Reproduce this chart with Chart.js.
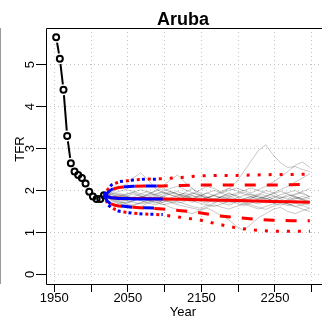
<!DOCTYPE html>
<html><head><meta charset="utf-8">
<script src="https://cdn.jsdelivr.net/npm/chart.js@4/dist/chart.umd.min.js"></script>
<style>
html,body{margin:0;padding:0;background:#fff;}
#wrap{position:relative;width:326px;height:322px;}
#edge{position:absolute;left:0;top:28px;width:1px;height:256px;background:#9a9a9a;}
</style></head><body>
<div id="wrap"><canvas id="c" width="326" height="322"></canvas><div id="edge"></div></div>
<script>
const countryName = 'Aruba';
const xAxisLabel = 'Year';
const yAxisLabel = 'TFR';
const xTickYears = [1950, 2000, 2050, 2100, 2150, 2200, 2250, 2300];
const xLabelYears = [1950, 2050, 2150, 2250];
const yTicks = [0, 1, 2, 3, 4, 5];

const obsYears = [1952.5, 1957.5, 1962.5, 1967.5, 1972.5, 1977.5, 1982.5, 1987.5, 1992.5, 1997.5, 2002.5, 2007.5, 2012.5, 2017.5];
const obsTFR   = [5.65, 5.14, 4.40, 3.30, 2.65, 2.45, 2.37, 2.30, 2.17, 1.97, 1.86, 1.80, 1.80, 1.89];

const projYears = [2017.5, 2022.5, 2027.5, 2032.5, 2037.5, 2047.5, 2057.5, 2072.5, 2097.5, 2122.5, 2147.5, 2172.5, 2197.5, 2222.5, 2247.5, 2272.5, 2297.5];
const redMedian  = [1.89, 1.85, 1.83, 1.82, 1.82, 1.81, 1.81, 1.81, 1.80, 1.79, 1.78, 1.77, 1.76, 1.75, 1.74, 1.73, 1.72];
const redUpper80 = [1.89, 1.96, 2.02, 2.05, 2.07, 2.09, 2.10, 2.11, 2.11, 2.12, 2.13, 2.13, 2.13, 2.13, 2.13, 2.14, 2.15];
const redLower80 = [1.89, 1.75, 1.68, 1.65, 1.63, 1.61, 1.60, 1.58, 1.56, 1.52, 1.47, 1.40, 1.36, 1.32, 1.29, 1.28, 1.28];
const redUpper95 = [1.89, 2.02, 2.11, 2.17, 2.20, 2.23, 2.25, 2.27, 2.28, 2.31, 2.35, 2.36, 2.36, 2.37, 2.38, 2.38, 2.39];
const redLower95 = [1.89, 1.68, 1.61, 1.55, 1.52, 1.48, 1.46, 1.44, 1.42, 1.36, 1.30, 1.20, 1.11, 1.06, 1.03, 1.03, 1.03];

const blueYears   = [2017.5, 2022.5, 2027.5, 2032.5, 2037.5, 2047.5, 2057.5, 2072.5, 2097.5];
const blueMedian  = [1.89, 1.85, 1.83, 1.82, 1.81, 1.81, 1.80, 1.80, 1.80];
const blueUpper80 = [1.89, 1.95, 2.02, 2.06, 2.08, 2.09, 2.10, 2.11, 2.11];
const blueLower80 = [1.89, 1.74, 1.67, 1.64, 1.64, 1.62, 1.60, 1.59, 1.58];
const blueUpper95 = [1.89, 2.03, 2.13, 2.18, 2.21, 2.23, 2.25, 2.27, 2.27];
const blueLower95 = [1.89, 1.67, 1.59, 1.54, 1.51, 1.48, 1.46, 1.44, 1.43];

const trajYears = [2017.5, 2027.5, 2037.5, 2047.5, 2057.5, 2067.5, 2077.5, 2087.5, 2097.5, 2107.5, 2117.5, 2127.5, 2137.5, 2147.5, 2157.5, 2167.5, 2177.5, 2187.5, 2197.5, 2207.5, 2217.5, 2227.5, 2237.5, 2247.5, 2257.5, 2267.5, 2277.5, 2287.5, 2297.5];
const traj1  = [1.89,1.95,2.05,2.15,2.30,2.42,2.25,2.05,1.95,1.90,1.85,1.95,2.05,1.90,1.80,1.75,1.85,1.95,1.85,1.75,1.80,1.90,2.00,1.95,1.85,1.80,1.90,1.95,1.85];
const traj2  = [1.89,1.80,1.72,1.70,1.75,1.82,1.90,2.00,2.10,2.25,2.37,2.20,2.05,1.95,1.85,1.78,1.70,1.65,1.72,1.80,1.85,1.78,1.70,1.75,1.82,1.90,1.85,1.80,1.75];
const traj3  = [1.89,1.90,1.85,1.80,1.85,1.92,1.98,1.90,1.85,1.80,1.78,1.85,1.92,2.00,2.10,2.05,1.95,2.05,2.20,2.45,2.70,2.95,3.09,2.85,2.66,2.55,2.57,2.50,2.45];
const traj4  = [1.89,1.78,1.70,1.65,1.60,1.62,1.70,1.75,1.68,1.60,1.55,1.50,1.45,1.52,1.58,1.50,1.40,1.30,1.15,1.05,1.20,1.35,1.45,1.55,1.60,1.50,1.45,1.52,1.58];
const traj5  = [1.89,1.85,1.88,1.92,1.95,1.88,1.82,1.78,1.85,1.92,1.98,1.90,1.82,1.75,1.70,1.78,1.86,1.92,1.88,1.80,1.72,1.68,1.75,1.82,1.90,1.95,2.00,1.92,1.85];
const traj6  = [1.89,1.82,1.78,1.75,1.72,1.68,1.72,1.80,1.88,1.95,1.90,1.82,1.75,1.70,1.66,1.62,1.68,1.75,1.82,1.88,1.92,1.85,1.78,1.70,1.65,1.70,1.76,1.70,1.65];
const traj7  = [1.89,1.92,1.98,2.02,1.98,1.92,1.88,1.92,1.98,2.05,2.10,2.02,1.95,1.88,1.82,1.90,1.98,2.05,2.00,1.92,1.86,1.80,1.86,1.94,2.02,2.10,2.20,2.30,2.40];
const traj8  = [1.89,1.76,1.68,1.62,1.66,1.72,1.78,1.72,1.66,1.70,1.76,1.82,1.88,1.84,1.78,1.72,1.76,1.82,1.78,1.72,1.66,1.60,1.55,1.62,1.70,1.76,1.82,1.78,1.72];
const traj9  = [1.89,1.86,1.80,1.76,1.80,1.86,1.84,1.78,1.72,1.76,1.82,1.88,1.94,1.90,1.84,1.80,1.74,1.70,1.74,1.80,1.86,1.92,1.88,1.80,1.74,1.68,1.62,1.66,1.72];
const traj10 = [1.89,1.94,1.90,1.86,1.82,1.76,1.70,1.66,1.72,1.80,1.74,1.68,1.62,1.58,1.64,1.70,1.78,1.84,1.90,1.96,1.90,1.84,1.80,1.86,1.80,1.74,1.80,1.86,1.80];
const traj11 = [1.89,1.80,1.84,1.90,1.96,2.02,1.96,1.88,1.80,1.74,1.70,1.74,1.80,1.86,1.94,2.00,1.94,1.86,1.80,1.76,1.82,1.88,1.82,1.76,1.72,1.78,1.84,1.78,1.72];
const traj12 = [1.89,1.90,1.94,1.88,1.82,1.78,1.84,1.90,1.96,1.90,1.84,1.78,1.72,1.78,1.84,1.88,1.82,1.76,1.70,1.64,1.70,1.76,1.82,1.76,1.70,1.64,1.70,1.64,1.58];
const traj13 = [1.89,1.84,1.76,1.70,1.76,1.84,1.92,1.98,2.04,1.98,1.92,1.86,1.82,1.88,1.94,1.88,1.82,1.88,1.94,2.00,2.06,2.00,1.94,1.88,1.82,1.86,1.92,1.98,2.04];
const traj14 = [1.89,1.86,1.90,1.84,1.78,1.82,1.76,1.70,1.76,1.82,1.88,1.94,1.88,1.80,1.74,1.80,1.86,1.80,1.74,1.68,1.74,1.80,1.86,1.92,1.98,1.92,1.86,1.80,1.86];
const traj15 = [1.89,1.84,1.80,1.86,1.92,1.86,1.80,1.86,1.92,1.98,1.92,1.86,1.80,1.76,1.82,1.88,1.94,2.00,2.06,2.00,1.94,2.02,2.10,2.20,2.32,2.45,2.60,2.68,2.55];
const traj16 = [1.89,1.82,1.74,1.68,1.64,1.70,1.76,1.82,1.78,1.72,1.66,1.62,1.58,1.54,1.60,1.66,1.60,1.56,1.62,1.68,1.62,1.56,1.62,1.68,1.74,1.68,1.62,1.56,1.50];
const trajectories = [traj1, traj2, traj3, traj4, traj5, traj6, traj7, traj8, traj9, traj10, traj11, traj12, traj13, traj14, traj15, traj16];

const FONT = '"Liberation Sans", Arial, Helvetica, sans-serif';
const pts = (xs, ys) => xs.map((x, i) => ({x: x, y: ys[i]}));

const datasets = [];
const lineDs = (xs, ys, color, width, dash, offset, order) => ({
  data: pts(xs, ys), borderColor: color, borderWidth: width, borderDash: dash, borderDashOffset: offset,
  pointRadius: 0, fill: false, tension: 0, order: order
});
// blue (top)
datasets.push(lineDs(blueYears, blueMedian, '#0000ff', 3, [], 0, 1));
datasets.push(lineDs(blueYears, blueUpper80, '#0000ff', 3, [11, 11], 0, 2));
datasets.push(lineDs(blueYears, blueLower80, '#0000ff', 3, [11, 11], 0, 2));
datasets.push(lineDs(blueYears, blueUpper95, '#0000ff', 3, [3, 8], 0, 3));
datasets.push(lineDs(blueYears, blueLower95, '#0000ff', 3, [3, 8], 0, 3));
// red
datasets.push(lineDs(projYears, redMedian, '#ff0000', 3, [], 0, 5));
datasets.push(lineDs(projYears, redUpper80, '#ff0000', 3, [11, 11], 11, 6));
datasets.push(lineDs(projYears, redLower80, '#ff0000', 3, [11, 11], 11, 6));
datasets.push(lineDs(projYears, redUpper95, '#ff0000', 3, [3, 8], 5.5, 7));
datasets.push(lineDs(projYears, redLower95, '#ff0000', 3, [3, 8], 5.5, 7));
// gray trajectories
trajectories.forEach((t) => datasets.push(lineDs(trajYears, t, 'rgba(0,0,0,0.22)', 1, [], 0, 15)));
// observed: circles, white masks under them, connecting line (bottom)
datasets.push({data: pts(obsYears, obsTFR), showLine: false, pointRadius: 3, pointBorderWidth: 2,
  pointBorderColor: '#000', pointBackgroundColor: 'rgba(0,0,0,0)', order: 20});
datasets.push({data: pts(obsYears, obsTFR), showLine: false, pointRadius: 5.5, pointBorderWidth: 0,
  pointBackgroundColor: '#fff', pointBorderColor: '#fff', order: 21});
datasets.push({data: pts(obsYears, obsTFR), borderColor: '#000', borderWidth: 2, pointRadius: 0,
  tension: 0, fill: false, order: 22});

const decor = {
  id: 'decor',
  afterDraw(chart) {
    const {ctx, chartArea: a, scales: {y}} = chart;
    ctx.save();
    ctx.strokeStyle = '#000'; ctx.lineWidth = 1; ctx.setLineDash([]);
    ctx.beginPath();
    ctx.moveTo(a.right + 2, a.top + 0.5);
    ctx.lineTo(a.left + 0.5, a.top + 0.5);
    ctx.lineTo(a.left + 0.5, a.bottom + 0.5);
    ctx.lineTo(a.right + 2, a.bottom + 0.5);
    ctx.stroke();
    ctx.fillStyle = '#000';
    ctx.font = '13px ' + FONT;
    ctx.textAlign = 'center'; ctx.textBaseline = 'middle';
    yTicks.forEach(v => {
      ctx.save(); ctx.translate(a.left - 16, y.getPixelForValue(v)); ctx.rotate(-Math.PI / 2);
      ctx.fillText(String(v), 0, 0); ctx.restore();
    });
    ctx.save(); ctx.translate(a.left - 26, (a.top + a.bottom) / 2 - 7); ctx.rotate(-Math.PI / 2);
    ctx.fillText(yAxisLabel, 0, 0); ctx.restore();
    ctx.font = 'bold 18px ' + FONT;
    ctx.textBaseline = 'alphabetic';
    ctx.fillText(countryName, (a.left + a.right) / 2, 25);
    ctx.restore();
  }
};

new Chart(document.getElementById('c'), {
  type: 'line',
  data: {datasets: datasets},
  plugins: [decor],
  options: {
    responsive: false, animation: false, devicePixelRatio: 1,
    layout: {padding: {top: 28, left: 0, right: 0, bottom: 0}},
    plugins: {legend: {display: false}, tooltip: {enabled: false}, title: {display: false}},
    scales: {
      x: {
        type: 'linear', min: 1938.7, max: 2311.3,
        afterBuildTicks: (s) => { s.ticks = xTickYears.map(v => ({value: v})); },
        afterFit: (s) => { s.height = 38; },
        ticks: {autoSkip: false, maxRotation: 0, minRotation: 0, padding: 0, color: '#000',
          font: {family: FONT, size: 13, lineHeight: 1},
          callback: (v) => xLabelYears.includes(v) ? String(v) : ''},
        grid: {color: '#c4c4c4', lineWidth: 1, tickLength: 8, tickColor: '#000', tickWidth: 1, tickBorderDash: []},
        border: {display: false, dash: [1, 3]},
        title: {display: true, text: xAxisLabel, color: '#000', font: {family: FONT, size: 13, lineHeight: 1.2},
          padding: {top: 0, bottom: 2.2}}
      },
      y: {
        type: 'linear', min: -0.226, max: 5.87,
        afterBuildTicks: (s) => { s.ticks = yTicks.map(v => ({value: v})); },
        afterFit: (s) => { s.width = 46; },
        ticks: {display: false},
        grid: {color: '#c4c4c4', lineWidth: 1, tickLength: 10, tickColor: '#000', tickWidth: 1, tickBorderDash: []},
        border: {display: false, dash: [1, 3]}
      }
    }
  }
});
</script>
</body></html>
